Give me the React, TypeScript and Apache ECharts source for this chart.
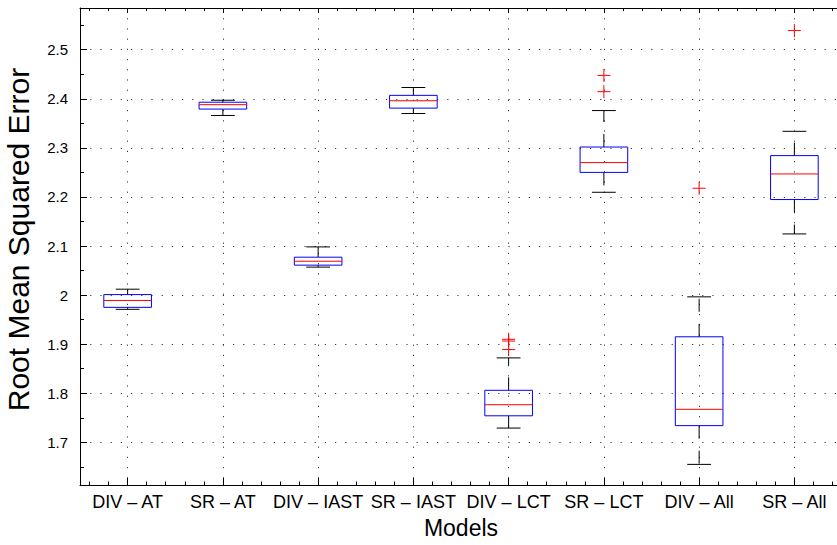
import React, { useEffect, useRef } from 'react';
import * as echarts from 'echarts';

const categories = ['DIV – AT', 'SR – AT', 'DIV – IAST', 'SR – IAST', 'DIV – LCT', 'SR – LCT', 'DIV – All', 'SR – All'];
const whiskerLow = [1.971, 2.366, 2.057, 2.370, 1.729, 2.2095, 1.655, 2.1246];
const q1Values = [1.975, 2.379, 2.061, 2.381, 1.754, 2.250, 1.734, 2.1947];
const medianValues = [1.989, 2.388, 2.069, 2.396, 1.7766, 2.270, 1.7672, 2.2468];
const q3Values = [2.001, 2.393, 2.0772, 2.407, 1.806, 2.3017, 1.915, 2.2842];
const whiskerHigh = [2.012, 2.397, 2.0982, 2.423, 1.872, 2.376, 1.9964, 2.3337];
const outlierModel = [5, 5, 5, 6, 6, 7, 8];
const outlierValues = [1.889, 1.9064, 1.9099, 2.4145, 2.4477, 2.2177, 2.539];
const yMin = 1.613;
const yMax = 2.585;
const yStep = 0.1;

const FONT = "'Liberation Sans', Arial, Helvetica, sans-serif";

export default function App() {
  const ref = useRef<HTMLDivElement>(null);
  useEffect(() => {
    if (!ref.current) return;
    const chart = echarts.init(ref.current, null, { renderer: 'svg' });
    const dotted = { color: '#3a3a3a', width: 1, type: [1.2, 9] as any };
    const boxData = categories.map((_, i) => [i + 1, whiskerLow[i], q1Values[i], medianValues[i], q3Values[i], whiskerHigh[i]]);
    const outData = outlierModel.map((m, i) => [m, outlierValues[i]]);
    const option: any = {
      animation: false,
      backgroundColor: '#fff',
      grid: { left: 80, top: 8, width: 762, height: 477, containLabel: false, outerBoundsMode: 'none' },
      xAxis: [
        {
          type: 'value', position: 'bottom', min: 0.5, max: 8.5, splitNumber: 8, minInterval: 1, maxInterval: 1,
          axisLine: { show: true, onZero: false, lineStyle: { color: '#000', width: 1 } },
          axisTick: { show: true, inside: true, length: 7, lineStyle: { color: '#000', width: 1 } },
          minorTick: { show: true, splitNumber: 5, length: 3.5, lineStyle: { color: '#000', width: 1 } },
          axisLabel: {
            color: '#000', fontSize: 18, fontFamily: FONT, margin: 8,
            formatter: (v: number) => {
              const i = Math.round(v);
              return Math.abs(v - i) < 1e-6 && i >= 1 && i <= categories.length ? categories[i - 1] : '';
            },
          },
          splitLine: { show: true, lineStyle: dotted },
          name: 'Models', nameLocation: 'middle', nameGap: 31,
          nameTextStyle: { color: '#000', fontSize: 23, fontFamily: FONT },
        },
        {
          type: 'value', position: 'top', min: 0.5, max: 8.5, splitNumber: 8, minInterval: 1, maxInterval: 1,
          axisLine: { show: true, onZero: false, lineStyle: { color: '#000', width: 1 } },
          axisTick: { show: true, inside: true, length: 5, lineStyle: { color: '#000', width: 1 } },
          minorTick: { show: true, splitNumber: 5, length: 3, lineStyle: { color: '#000', width: 1 } },
          axisLabel: { show: false },
          splitLine: { show: false },
        },
      ],
      yAxis: {
        type: 'value', min: yMin, max: yMax, splitNumber: 10, minInterval: yStep, maxInterval: yStep,
        axisLine: { show: true, onZero: false, lineStyle: { color: '#000', width: 1 } },
        axisTick: { show: true, inside: true, length: 7, lineStyle: { color: '#000', width: 1 } },
        minorTick: { show: true, splitNumber: 2, length: 4, lineStyle: { color: '#000', width: 1 } },
        axisLabel: {
          color: '#000', fontSize: 15, fontFamily: FONT, margin: 12,
          formatter: (v: number) => {
            const k = Math.round(v / yStep);
            return Math.abs(v / yStep - k) < 1e-6 ? String(Math.round(k * yStep * 10) / 10) : '';
          },
        },
        splitLine: { show: true, lineStyle: dotted },
        name: 'Root Mean Squared Error', nameLocation: 'middle', nameGap: 47,
        nameTextStyle: { color: '#000', fontSize: 30, fontFamily: FONT, padding: [0, 0, 0, 14] },
      },
      series: [
        {
          type: 'custom', xAxisIndex: 0, yAxisIndex: 0, silent: true,
          data: boxData,
          encode: { x: 0, y: [1, 2, 3, 4, 5] },
          renderItem: (params: any, api: any) => {
            const x = api.value(0);
            const bw = api.size([0.5, 0])[0];
            const cw = bw / 2;
            const lo = api.coord([x, api.value(1)]);
            const q1 = api.coord([x, api.value(2)]);
            const md = api.coord([x, api.value(3)]);
            const q3 = api.coord([x, api.value(4)]);
            const hi = api.coord([x, api.value(5)]);
            const cx = lo[0];
            const black = { stroke: '#000', lineWidth: 1 };
            return {
              type: 'group',
              children: [
                { type: 'line', shape: { x1: cx, y1: q3[1], x2: cx, y2: hi[1] }, style: { ...black, lineDash: [13, 12] } },
                { type: 'line', shape: { x1: cx, y1: q1[1], x2: cx, y2: lo[1] }, style: { ...black, lineDash: [13, 12] } },
                { type: 'line', shape: { x1: cx - cw / 2, y1: hi[1], x2: cx + cw / 2, y2: hi[1] }, style: black },
                { type: 'line', shape: { x1: cx - cw / 2, y1: lo[1], x2: cx + cw / 2, y2: lo[1] }, style: black },
                { type: 'rect', shape: { x: cx - bw / 2, y: q3[1], width: bw, height: q1[1] - q3[1] }, style: { fill: 'none', stroke: '#0000ff', lineWidth: 1 } },
                { type: 'line', shape: { x1: cx - bw / 2, y1: md[1], x2: cx + bw / 2, y2: md[1] }, style: { stroke: '#ff0000', lineWidth: 1 } },
              ],
            };
          },
        },
        {
          type: 'custom', xAxisIndex: 0, yAxisIndex: 0, silent: true,
          data: outData,
          encode: { x: 0, y: 1 },
          renderItem: (params: any, api: any) => {
            const p = api.coord([api.value(0), api.value(1)]);
            const h = 6.5;
            const st = { stroke: '#ff0000', lineWidth: 1 };
            return {
              type: 'group',
              children: [
                { type: 'line', shape: { x1: p[0] - h, y1: p[1], x2: p[0] + h, y2: p[1] }, style: st },
                { type: 'line', shape: { x1: p[0], y1: p[1] - h, x2: p[0], y2: p[1] + h }, style: st },
              ],
            };
          },
        },
      ],
    };
    chart.setOption(option);
    return () => chart.dispose();
  }, []);
  return <div ref={ref} style={{ position: 'absolute', left: 0, top: 0, width: 837, height: 545 }} />;
}
